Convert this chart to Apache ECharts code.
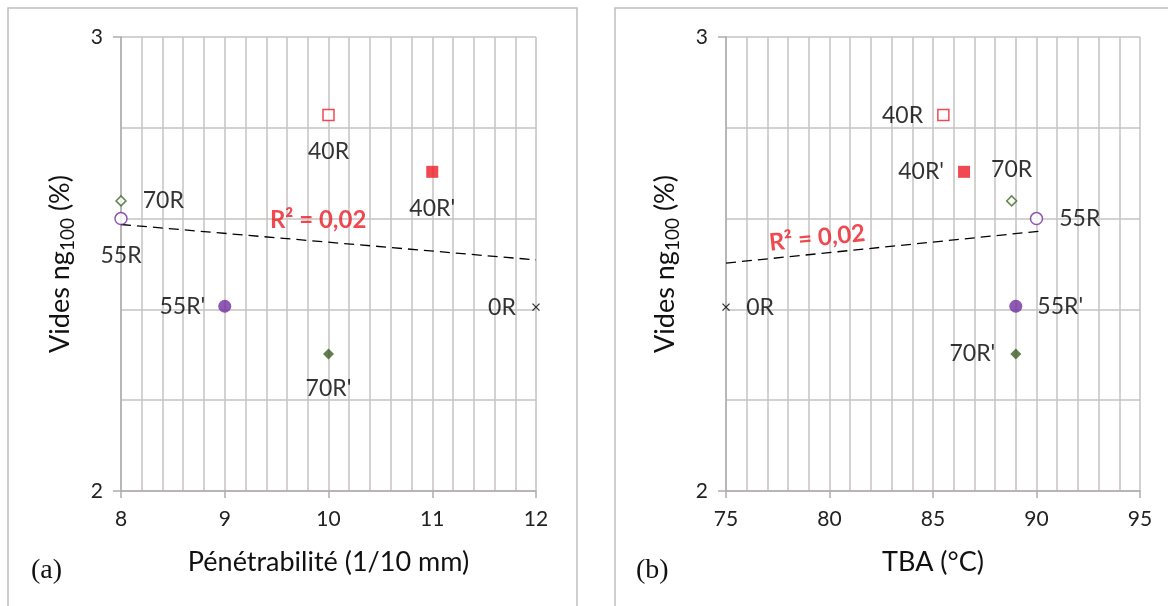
<!DOCTYPE html>
<html><head><meta charset="utf-8">
<script src="https://cdn.jsdelivr.net/npm/echarts@6/dist/echarts.min.js"></script>
<style>html,body{margin:0;padding:0;background:#fff}#c{width:1168px;height:606px}</style>
</head><body><div id="c"></div>
<script>
// ---- data ----
const pointNames    = ['40R', "40R'", '70R', '55R', "55R'", "70R'", '0R'];
const penetrability = [10, 11, 8, 8, 9, 10, 12];            // panel (a) x
const tbaValues     = [85.5, 86.5, 88.8, 90, 89, 89, 75];     // panel (b) x
const voidsNg100    = [2.828, 2.703, 2.639, 2.600, 2.407, 2.302, 2.405];
const trendA        = [[8, 2.587], [12, 2.509]];
const trendB        = [[75, 2.502], [90.1, 2.572]];
const r2Text        = 'R² = 0,02';
const xRangeA = [8, 12], xStepA = 1;
const xRangeB = [75, 95], xStepB = 5;
const yRange  = [2, 3], yStep = 1;

// ---- styles ----
const markers = {
  '40R':  {symbol: 'rect', size: 11, fill: '#ffffff', stroke: '#ee1c25', bw: 1.5},
  "40R'": {symbol: 'rect', size: 12, fill: '#ee1c25', stroke: '#ee1c25', bw: 0},
  '70R':  {symbol: 'diamond', size: 10, fill: '#ffffff', stroke: '#3d6b25', bw: 1.5},
  '55R':  {symbol: 'circle', size: 12, fill: '#ffffff', stroke: '#7030a0', bw: 1.5},
  "55R'": {symbol: 'circle', size: 13, fill: '#7030a0', stroke: '#7030a0', bw: 0},
  "70R'": {symbol: 'diamond', size: 11, fill: '#3d5e26', stroke: '#3d5e26', bw: 0},
  '0R':   {symbol: 'path://M0,0L10,10M10,0L0,10', size: 7, fill: 'transparent', stroke: '#000', bw: 1.3}
};
const labelPosA  = ['bottom', 'bottom', 'right', 'bottom', 'left', 'bottom', 'left'];
const labelDistA = [19, 19, 16, 19, 13, 18, 16];
const labelPosB  = ['left', 'left', 'top', 'right', 'right', 'left', 'right'];
const labelDistB = [14, 14, 14, 16, 15, 15, 16];

const FONT = 'Lato';
const gridColor = '#c6c2c2';
const axisColor = '#b0acac';

function buildData(xs, pos, dist) {
  return pointNames.map((n, i) => {
    const m = markers[n];
    return {
      name: n,
      value: [xs[i], voidsNg100[i]],
      symbol: m.symbol,
      symbolSize: m.size,
      itemStyle: {color: m.fill, borderColor: m.stroke, borderWidth: m.bw},
      label: {show: true, formatter: n, position: pos[i], distance: dist[i],
               color: '#000', fontSize: 23, fontFamily: FONT}
    };
  });
}

function xAxis(idx, range, step, name) {
  return {
    type: 'value', gridIndex: idx, min: range[0], max: range[1], interval: step,
    name: name, nameLocation: 'middle', nameGap: 58,
    nameTextStyle: {fontSize: 27, fontFamily: FONT, color: '#111'},
    axisLine: {show: true, lineStyle: {color: axisColor, width: 1.5}},
    axisTick: {show: true, length: 7, lineStyle: {color: axisColor, width: 1.5}},
    axisLabel: {fontSize: 21, fontFamily: FONT, color: '#222', margin: 18},
    splitLine: {show: true, lineStyle: {color: gridColor, width: 1.5}},
    minorTick: {show: false, splitNumber: 5},
    minorSplitLine: {show: true, lineStyle: {color: gridColor, width: 1.5}}
  };
}
function yAxis(idx) {
  return {
    type: 'value', gridIndex: idx, min: yRange[0], max: yRange[1], interval: yStep,
    name: 'Vides ng{sub|100} (%)', nameLocation: 'middle', nameGap: 44,
    nameTextStyle: {fontSize: 27, fontFamily: FONT, color: '#111',
      rich: {sub: {fontSize: 19, fontFamily: FONT, color: '#111', verticalAlign: 'bottom', padding: [14, 0, 0, 0]}}},
    axisLine: {show: true, lineStyle: {color: axisColor, width: 1.5}},
    axisTick: {show: true, length: 8, lineStyle: {color: axisColor, width: 1.5}},
    axisLabel: {fontSize: 21, fontFamily: FONT, color: '#222', margin: 18},
    splitLine: {show: true, lineStyle: {color: gridColor, width: 1.5}},
    minorTick: {show: false, splitNumber: 5},
    minorSplitLine: {show: true, lineStyle: {color: gridColor, width: 1.5}}
  };
}
function trend(idx, pts) {
  return {type: 'line', xAxisIndex: idx, yAxisIndex: idx, data: pts, symbol: 'none',
    silent: true, z: 1, lineStyle: {color: '#000', width: 1.3, type: [10, 6]}};
}
function r2(idx, pt, rot) {
  return {type: 'scatter', xAxisIndex: idx, yAxisIndex: idx, data: [pt], symbolSize: 0, silent: true,
    label: {show: true, position: 'inside', formatter: r2Text, rotate: rot,
      color: '#ee1c25', fontWeight: 'bold', fontSize: 24, fontFamily: FONT}};
}

const chart = echarts.init(document.getElementById('c'), null, {renderer: 'canvas'});
chart.setOption({
  animation: false,
  backgroundColor: '#fff',
  grid: [
    {left: 121, right: 1168 - 536, top: 37, bottom: 606 - 491},
    {left: 726, right: 1168 - 1140, top: 37, bottom: 606 - 491}
  ],
  xAxis: [xAxis(0, xRangeA, xStepA, 'Pénétrabilité (1/10 mm)'), xAxis(1, xRangeB, xStepB, 'TBA (°C)')],
  yAxis: [yAxis(0), yAxis(1)],
  graphic: [
    {type: 'rect', shape: {x: 8, y: 8, width: 569, height: 640}, style: {fill: 'none', stroke: '#bfbfbf', lineWidth: 1.5}, silent: true},
    {type: 'rect', shape: {x: 615, y: 8, width: 620, height: 640}, style: {fill: 'none', stroke: '#bfbfbf', lineWidth: 1.5}, silent: true},
    {type: 'text', left: 31, top: 557, style: {text: '(a)', fontSize: 28, fontFamily: 'Liberation Serif', fill: '#111'}},
    {type: 'text', left: 636, top: 557, style: {text: '(b)', fontSize: 28, fontFamily: 'Liberation Serif', fill: '#111'}}
  ],
  series: [
    trend(0, trendA),
    trend(1, trendB),
    r2(0, [9.9, 2.597], 0),
    r2(1, [79.4, 2.557], 6),
    {type: 'scatter', xAxisIndex: 0, yAxisIndex: 0, clip: false, z: 3, data: buildData(penetrability, labelPosA, labelDistA)},
    {type: 'scatter', xAxisIndex: 1, yAxisIndex: 1, clip: false, z: 3, data: buildData(tbaValues, labelPosB, labelDistB)}
  ]
});
</script>
</body></html>
